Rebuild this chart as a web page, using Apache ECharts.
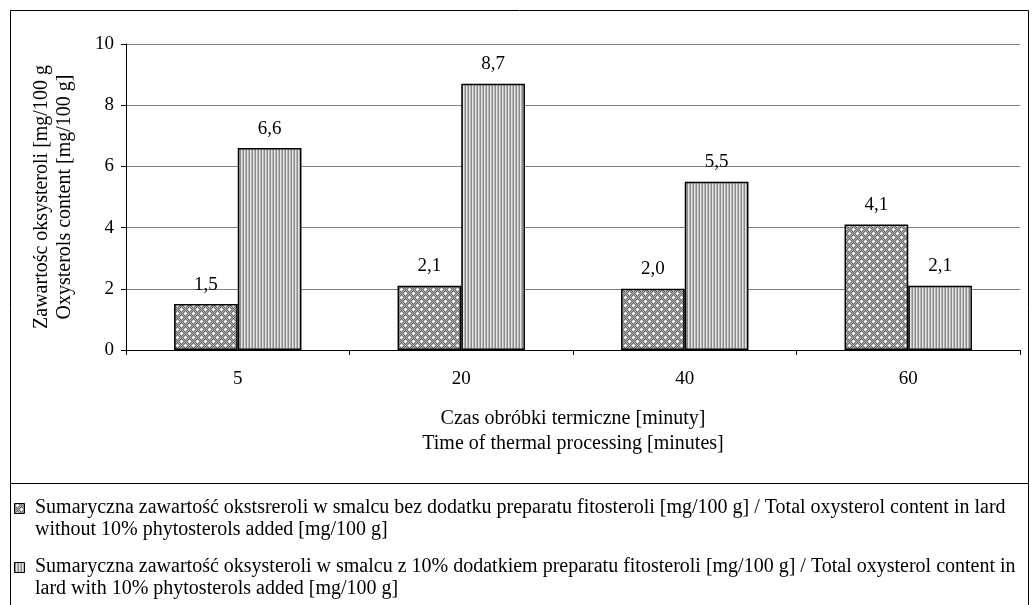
<!DOCTYPE html>
<html><head><meta charset="utf-8">
<script src="https://cdn.jsdelivr.net/npm/echarts@6/dist/echarts.min.js"></script>
<style>html,body{margin:0;padding:0;background:#fff}#c{width:1033px;height:605px}</style>
</head><body><div id="c"></div>
<script>
const categories = ['5', '20', '40', '60'];
const withoutPhyto = [1.5, 2.1, 2.0, 4.1];
const withPhyto = [6.6, 8.7, 5.5, 2.1];
const yTicks = [0, 2, 4, 6, 8, 10];
const seriesNames = [
  'Sumaryczna zawartość okstsreroli w smalcu bez dodatku preparatu fitosteroli [mg/100 g] / Total oxysterol content in lard\nwithout 10% phytosterols added [mg/100 g]',
  'Sumaryczna zawartość oksysteroli w smalcu z 10% dodatkiem preparatu fitosteroli [mg/100 g] / Total oxysterol content in\nlard with 10% phytosterols added [mg/100 g]'
];
const yTitle = 'Zawartośc oksysteroli [mg/100 g\nOxysterols content [mg/100 g]';
const xTitle = 'Czas obróbki termiczne [minuty]\nTime of thermal processing [minutes]';

function dotsPattern() {
  const c = document.createElement('canvas'); c.width = 8; c.height = 8;
  const g = c.getContext('2d');
  for (let y = 0; y < 8; y++) for (let x = 0; x < 8; x++) {
    g.fillStyle = ((x + y) % 2) ? '#6e6e6e' : '#ababab';
    g.fillRect(x, y, 1, 1);
  }
  g.fillStyle = '#ffffff';
  [[1,1],[5,5]].forEach(([x,y]) => {
    g.fillRect(x, y, 1, 1); g.fillRect(x-1, y, 1, 1); g.fillRect(x+1, y, 1, 1);
    g.fillRect(x, y-1, 1, 1); g.fillRect(x, y+1, 1, 1);
  });
  return c;
}
function stripesPattern() {
  const c = document.createElement('canvas'); c.width = 3; c.height = 4;
  const g = c.getContext('2d');
  const cols = ['#8a8a8a', '#e6e6e6', '#b8b8b8'];
  cols.forEach((col, i) => { g.fillStyle = col; g.fillRect(i, 0, 1, 4); });
  return c;
}
const p1 = {image: dotsPattern(), repeat: 'repeat'};
const p2 = {image: stripesPattern(), repeat: 'repeat'};
const font = '"Liberation Serif", "Times New Roman", serif';
const fmt = v => v.value.toFixed(1).replace('.', ',');

const chart = echarts.init(document.getElementById('c'), null, {renderer: 'canvas'});
chart.setOption({
  animation: false,
  backgroundColor: '#fff',
  textStyle: {fontFamily: font, color: '#000'},
  grid: {left: 126, right: 13, top: 44, bottom: 255},
  xAxis: {
    type: 'category', data: categories,
    axisLine: {lineStyle: {color: '#000', width: 1}},
    axisTick: {show: true, length: 5, lineStyle: {color: '#000'}},
    axisLabel: {fontFamily: font, fontSize: 19, color: '#000', margin: 20},
    name: xTitle, nameLocation: 'middle', nameGap: 56,
    nameTextStyle: {fontFamily: font, fontSize: 20, color: '#000', lineHeight: 25}
  },
  yAxis: {
    type: 'value', min: 0, max: 10, interval: 2,
    axisLine: {show: true, lineStyle: {color: '#000'}},
    axisTick: {show: true, length: 5, lineStyle: {color: '#000'}},
    axisLabel: {fontFamily: font, fontSize: 19, color: '#000', margin: 12,
      formatter: v => yTicks.includes(v) ? String(v) : ''},
    splitLine: {lineStyle: {color: '#808080', width: 1}},
    name: yTitle, nameLocation: 'middle', nameRotate: 90, nameGap: 50,
    nameTextStyle: {fontFamily: font, fontSize: 20, color: '#000', lineHeight: 23}
  },
  series: [
    {name: seriesNames[0], type: 'bar', data: withoutPhyto, barGap: '0%', barCategoryGap: '43%',
     itemStyle: {color: p1, borderColor: '#000', borderWidth: 1.5},
     label: {show: true, position: 'top', distance: 10, formatter: fmt, fontFamily: font, fontSize: 19, color: '#000'}},
    {name: seriesNames[1], type: 'bar', data: withPhyto,
     itemStyle: {color: p2, borderColor: '#000', borderWidth: 1.5},
     label: {show: true, position: 'top', distance: 10, formatter: fmt, fontFamily: font, fontSize: 19, color: '#000'}}
  ],
  graphic: [
    {type: 'rect', shape: {x: 10.5, y: 10.5, width: 1018, height: 620}, style: {fill: 'none', stroke: '#000', lineWidth: 1}, silent: true},
    {type: 'line', shape: {x1: 10, y1: 483.5, x2: 1028, y2: 483.5}, style: {stroke: '#000', lineWidth: 1}, silent: true},
    {type: 'rect', shape: {x: 14.5, y: 503.5, width: 10, height: 10}, style: {fill: p1, stroke: '#000', lineWidth: 1}},
    {type: 'text', left: 35, top: 497, style: {text: seriesNames[0], font: '20px ' + font, fill: '#000', lineHeight: 22}},
    {type: 'rect', shape: {x: 14.5, y: 562.5, width: 10, height: 10}, style: {fill: p2, stroke: '#000', lineWidth: 1}},
    {type: 'text', left: 35, top: 556, style: {text: seriesNames[1], font: '20px ' + font, fill: '#000', lineHeight: 22}}
  ]
});
</script></body></html>
